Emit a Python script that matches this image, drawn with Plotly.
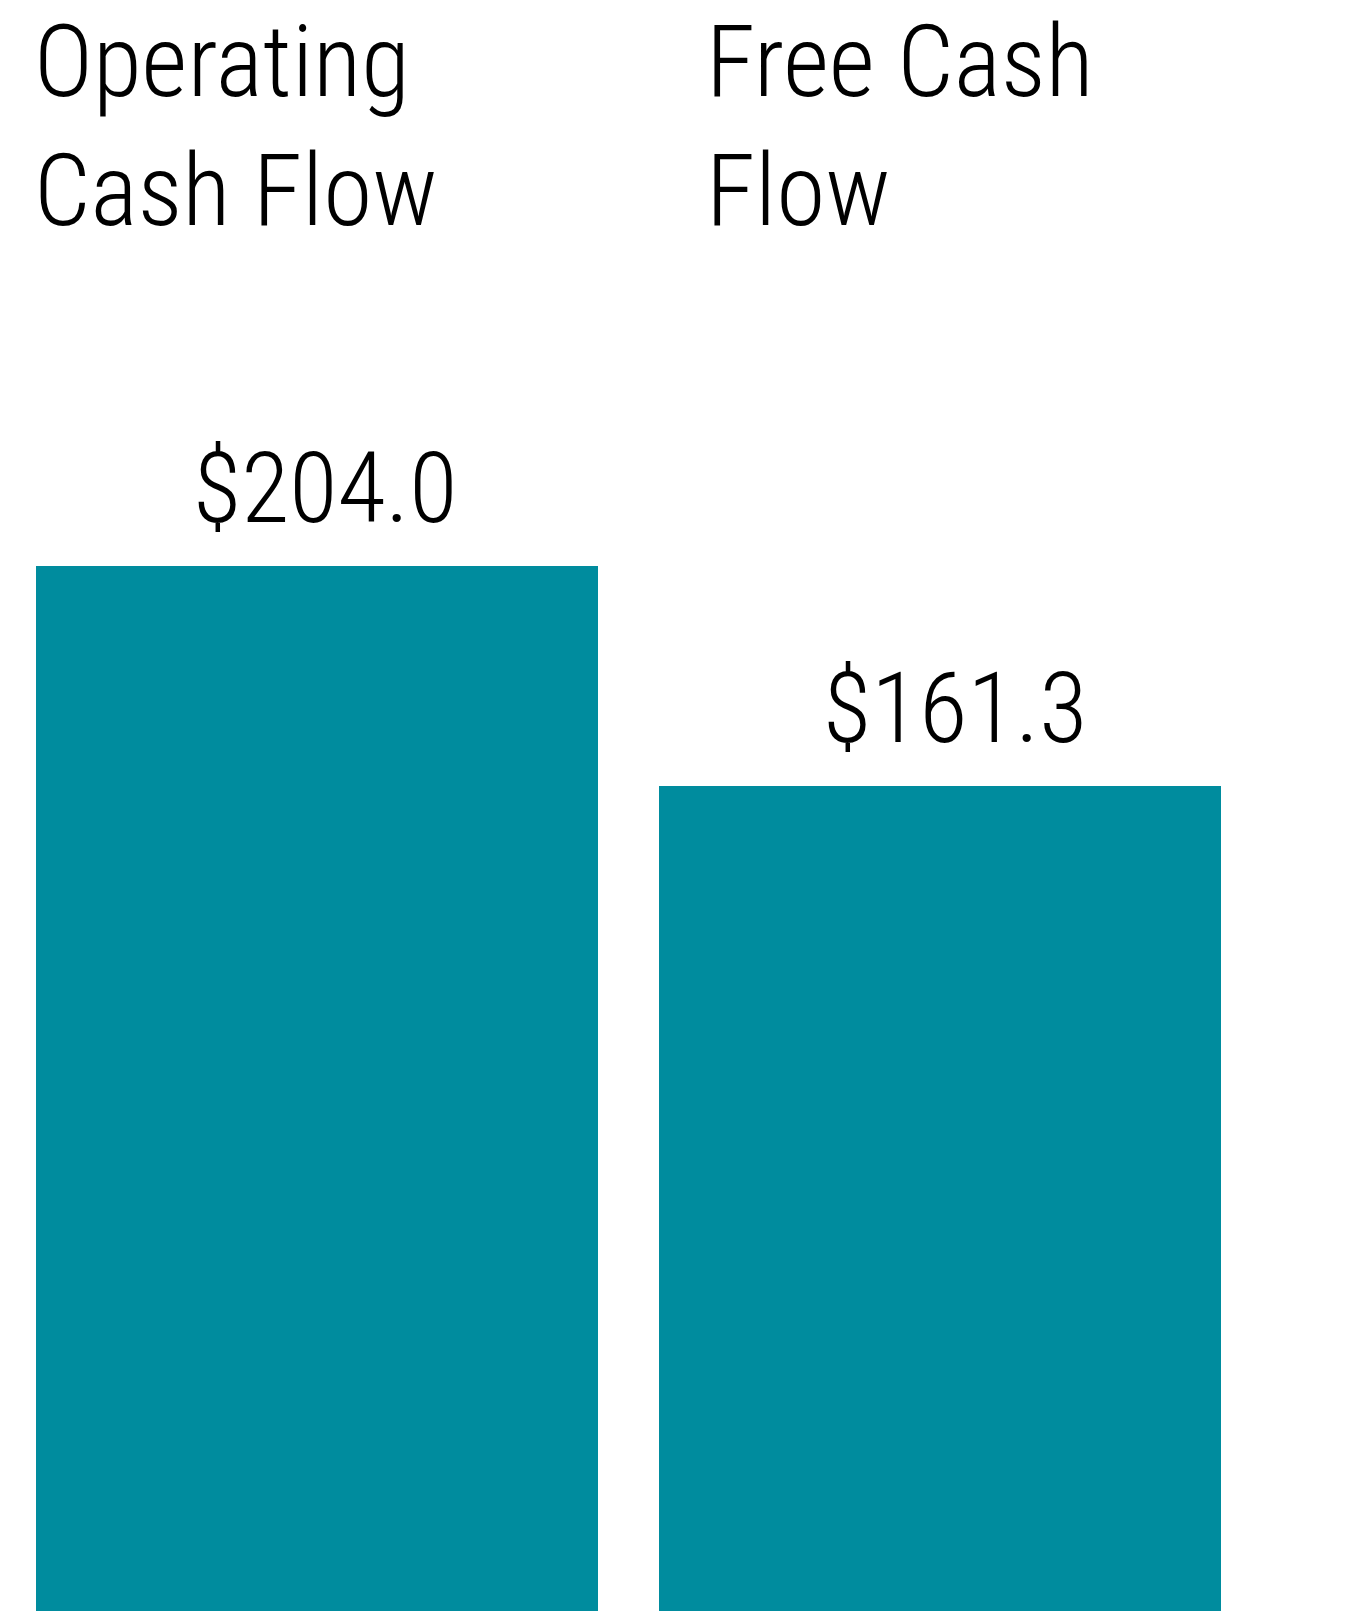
import plotly.graph_objects as go

categories = ["Operating Cash Flow", "Free Cash Flow"]
title_lines = [["Operating", "Cash Flow"], ["Free Cash", "Flow"]]
values = [204.0, 161.3]
value_labels = ["$204.0", "$161.3"]

BAR_COLOR = "#008C9E"
FONT = "Roboto Condensed, Liberation Sans Narrow, Arial Narrow, sans-serif"
BAR_W = 0.903
X0_FRAC = 309 / 622.5  # left edge of plot area relative to first category (in category units)

xs = list(range(len(categories)))

fig = go.Figure()
fig.add_trace(go.Bar(
    x=xs, y=values, width=BAR_W,
    marker=dict(color=BAR_COLOR, line=dict(width=0)),
    hoverinfo="skip", showlegend=False,
))

title_xshift = [-3, 46]
value_xshift = [7.5, 15.5]

annotations = []
for i, lines in enumerate(title_lines):
    for j, line in enumerate(lines):
        annotations.append(dict(
            x=xs[i] - BAR_W / 2, xref="x", xanchor="left", xshift=title_xshift[i],
            y=1, yref="paper", yanchor="top", yshift=6 - j * 129,
            text=line, showarrow=False, borderpad=0,
            font=dict(family=FONT, size=100, color="#000000", weight=300),
        ))
for i, (v, lab) in enumerate(zip(values, value_labels)):
    annotations.append(dict(
        x=xs[i], xref="x", xanchor="center", xshift=value_xshift[i],
        y=v, yref="y", yanchor="bottom", yshift=18,
        text=lab, showarrow=False,
        font=dict(family=FONT, size=99, color="#000000", weight=300),
    ))

x_lo = -X0_FRAC
x_hi = 1.5
plot_w = (x_hi - x_lo) * 622.5

fig.update_layout(
    width=1353, height=1611,
    margin=dict(l=0, r=int(round(1353 - plot_w)), t=0, b=0, pad=0),
    paper_bgcolor="white", plot_bgcolor="white",
    xaxis=dict(range=[x_lo, x_hi], visible=False, fixedrange=True),
    yaxis=dict(range=[0, 312.1], visible=False, fixedrange=True),
    annotations=annotations,
    bargap=0,
)
fig.write_html("out.html")
